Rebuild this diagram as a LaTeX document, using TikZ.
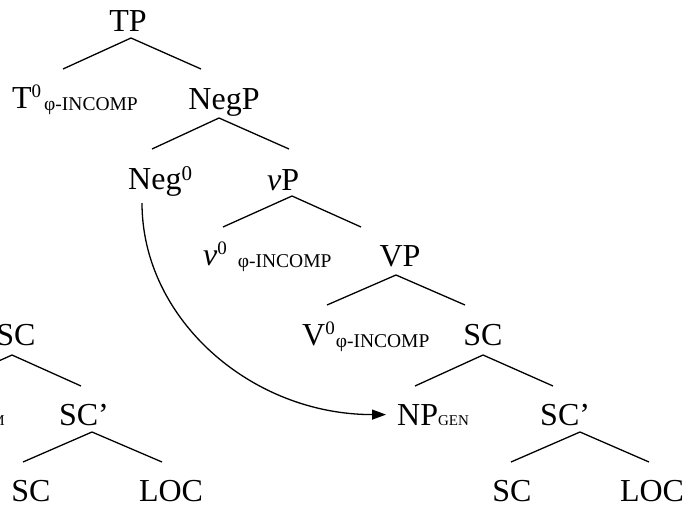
\documentclass[tikz,border=0pt]{standalone}
\usepackage{fontspec}
\setmainfont{Liberation Serif}
\usetikzlibrary{arrows.meta}

\newcommand{\zero}{\raisebox{11pt}{\fontsize{19}{22}\selectfont 0}}
\newcommand{\incomp}{\raisebox{-2.5pt}{\fontsize{19.5}{22}\selectfont φ-INCOMP}}
\newcommand{\casesub}[1]{{\fontsize{15}{17}\selectfont #1}}

\begin{document}
\begin{tikzpicture}[x=1pt,y=-1pt]
		\tikzset{lbl/.style = {inner sep=0pt, font=\fontsize{32}{38}\selectfont},
			leaf/.style = {lbl, text depth=0pt},
			arm/.style = {line width=1.3pt}}
		\useasboundingbox (0,0) rectangle (695,506);
		\clip (0,0) rectangle (695,506);

		% right tree
		\node[lbl, anchor=base] (tp) at (128,31) {TP};
		\node[lbl, anchor=base west] (tzero) at (12,108) {T\zero\hspace{3pt}\incomp};
		\node[lbl, anchor=base] (negp) at (224,109) {NegP};
		\node[lbl, anchor=base west] (negzero) at (128,189) {Neg\raisebox{8.5pt}{\fontsize{21}{24}\selectfont 0}};
		\node[lbl, anchor=base west] (vsmallp) at (267,190) {\textit{v}P};
		\node[lbl, anchor=base west] (vsmallzero) at (203,265) {\textit{v}\zero\hspace{11pt}\incomp};
		\node[lbl, anchor=base] (vbigp) at (400,266) {VP};
		\node[lbl, anchor=base west] (vbigzero) at (302,345) {V\zero\hspace{1pt}\incomp};
		\node[lbl, anchor=base] (sc) at (483,345) {SC};
		\node[lbl, anchor=base west] (npgen) at (397,425) {NP\casesub{GEN}};
		\node[lbl, anchor=base west] (scbar) at (540,425) {SC’};
		\node[leaf, anchor=base] (scleaf) at (512,501) {SC};
		\node[leaf, anchor=base] (loc) at (652,501) {LOC};

		% left tree, cut by the frame
		\node[lbl, anchor=base] (sc_l) at (16,345) {SC};
		\node[lbl, anchor=base east] (npnom_l) at (5,425) {NP\casesub{NOM}};
		\node[lbl, anchor=base] (scbar_l) at (84,425) {SC’};
		\node[leaf, anchor=base] (scleaf_l) at (31,501) {SC};
		\node[leaf, anchor=base] (loc_l) at (171,501) {LOC};

		\coordinate (tp_a) at (131,38);   \coordinate (tp_l) at (63,69);   \coordinate (tp_r) at (201,69);
		\coordinate (negp_a) at (219,118); \coordinate (negp_l) at (152,149); \coordinate (negp_r) at (289,149);
		\coordinate (vsmallp_a) at (292,196); \coordinate (vsmallp_l) at (223,227); \coordinate (vsmallp_r) at (361,227);
		\coordinate (vbigp_a) at (396,275); \coordinate (vbigp_l) at (327,305); \coordinate (vbigp_r) at (465,305);
		\coordinate (sc_a) at (483,355);  \coordinate (sc_l1) at (415,386); \coordinate (sc_r) at (553,386);
		\coordinate (scbar_a) at (580,432); \coordinate (scbar_l1) at (511,462); \coordinate (scbar_r) at (649,462);
		\coordinate (scl_a) at (12,355);  \coordinate (scl_l) at (-57,386); \coordinate (scl_r) at (81,386);
		\coordinate (scbarl_a) at (92,432); \coordinate (scbarl_l) at (23,462); \coordinate (scbarl_r) at (162,462);
		\coordinate (negfoot) at (142,203);

		\draw[arm] (tp_l)--(tp_a)--(tp_r);
		\draw[arm] (negp_l)--(negp_a)--(negp_r);
		\draw[arm] (vsmallp_l)--(vsmallp_a)--(vsmallp_r);
		\draw[arm] (vbigp_l)--(vbigp_a)--(vbigp_r);
		\draw[arm] (sc_l1)--(sc_a)--(sc_r);
		\draw[arm] (scbar_l1)--(scbar_a)--(scbar_r);
		\draw[arm] (scl_l)--(scl_a)--(scl_r);
		\draw[arm] (scbarl_l)--(scbarl_a)--(scbarl_r);

		\draw[arm, shorten >=11pt, -{Triangle[length=14pt,width=10pt]}]
			(negfoot) .. controls +(0,116) and +(-146,0) .. (npgen.west);

	\end{tikzpicture}
\end{document}
